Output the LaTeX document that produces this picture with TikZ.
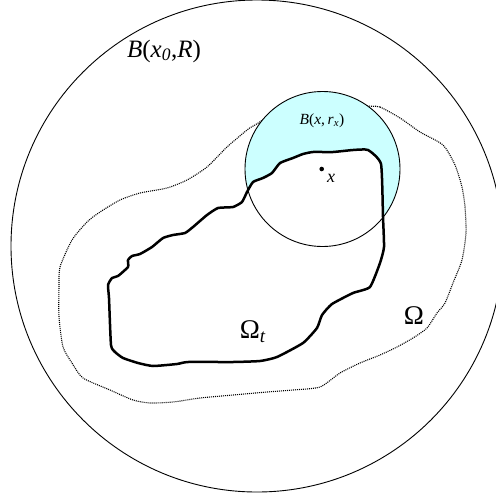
\documentclass[tikz,border=0pt]{standalone}
\usepackage{fontspec}
\setmainfont{Liberation Serif}
\begin{document}
\begin{tikzpicture}[x=1pt,y=-1pt,
  bigball/.style={draw=black,line width=0.9pt},
  omegaline/.style={draw=black,line width=1.1pt,dash pattern=on 1pt off 1pt},
  omegatline/.style={draw=black,fill=white,line width=2.5pt,line join=round},
  lbl/.style={inner sep=0pt}]
\useasboundingbox (0,0) rectangle (496,499);
\definecolor{ballcyan}{HTML}{CCFFFF}
% big ball
\draw[bigball] (257,246) circle (246);
% Omega (dotted)
\draw[omegaline] plot[smooth cycle,tension=0.4] coordinates {
(368,106) (380,107) (400,118) (420,132) (443,145) (455,165) (462,187)
(465,207) (466,233) (462,260) (453,283) (445,303) (437,313) (427,328)
(413,338) (397,347) (380,355) (360,363) (340,373) (320,387) (293,390)
(267,392) (233,395) (200,398) (173,402) (150,403) (133,400) (110,390)
(83,378) (72,363) (63,347) (59,317) (59,287) (60,267) (72,240) (87,222)
(100,212) (120,200) (140,193) (167,188) (187,180) (207,167) (227,147)
(247,130) (255,125) (300,100)};
% small ball fill
\fill[ballcyan] (322.5,169) circle (77.5);
% Omega_t
\draw[omegatline] plot[smooth cycle,tension=0.3] coordinates {
(368,150) (381,164) (383,217) (384,247) (380,263) (370,287) (353,293)
(332,304) (322,315) (317,328) (303,343) (277,357) (260,361) (233,362)
(188,362) (177,364) (153,366) (138,363) (123,358) (115,352) (111,345)
(109,298) (108,285) (112,278) (118,276) (128,267) (128,260) (132,256)
(140,254) (152,247) (163,238) (173,235) (185,233) (193,227) (207,215)
(218,208) (233,207) (242,202) (247,192) (253,182) (263,178) (272,173)
(280,163) (293,158) (303,154) (313,152) (333,152) (353,150)};
% small ball outline
\draw[black,line width=0.9pt] (322.5,169) circle (77.5);
% point x
\fill (321.7,169) circle (2.3);
\node[lbl] (xlbl) at (331,178) {\fontsize{18}{18}\selectfont\itshape x};
\node[lbl] (bx) at (322,121) {\fontsize{15.5}{15.5}\selectfont\textit{B}(\textit{x},\,\textit{r}\textsubscript{\textit{x}})};
\node[lbl] (bR) at (164,51) {\fontsize{25}{25}\selectfont\textit{B}(\textit{x}\textsubscript{\textit{0}},\textit{R})};
\node[lbl] (om) at (414,316) {\fontsize{27}{27}\selectfont Ω};
\node[lbl] (omt) at (253,332) {\fontsize{27}{27}\selectfont Ω\textsubscript{\textit{t}}};
\end{tikzpicture}
\end{document}
